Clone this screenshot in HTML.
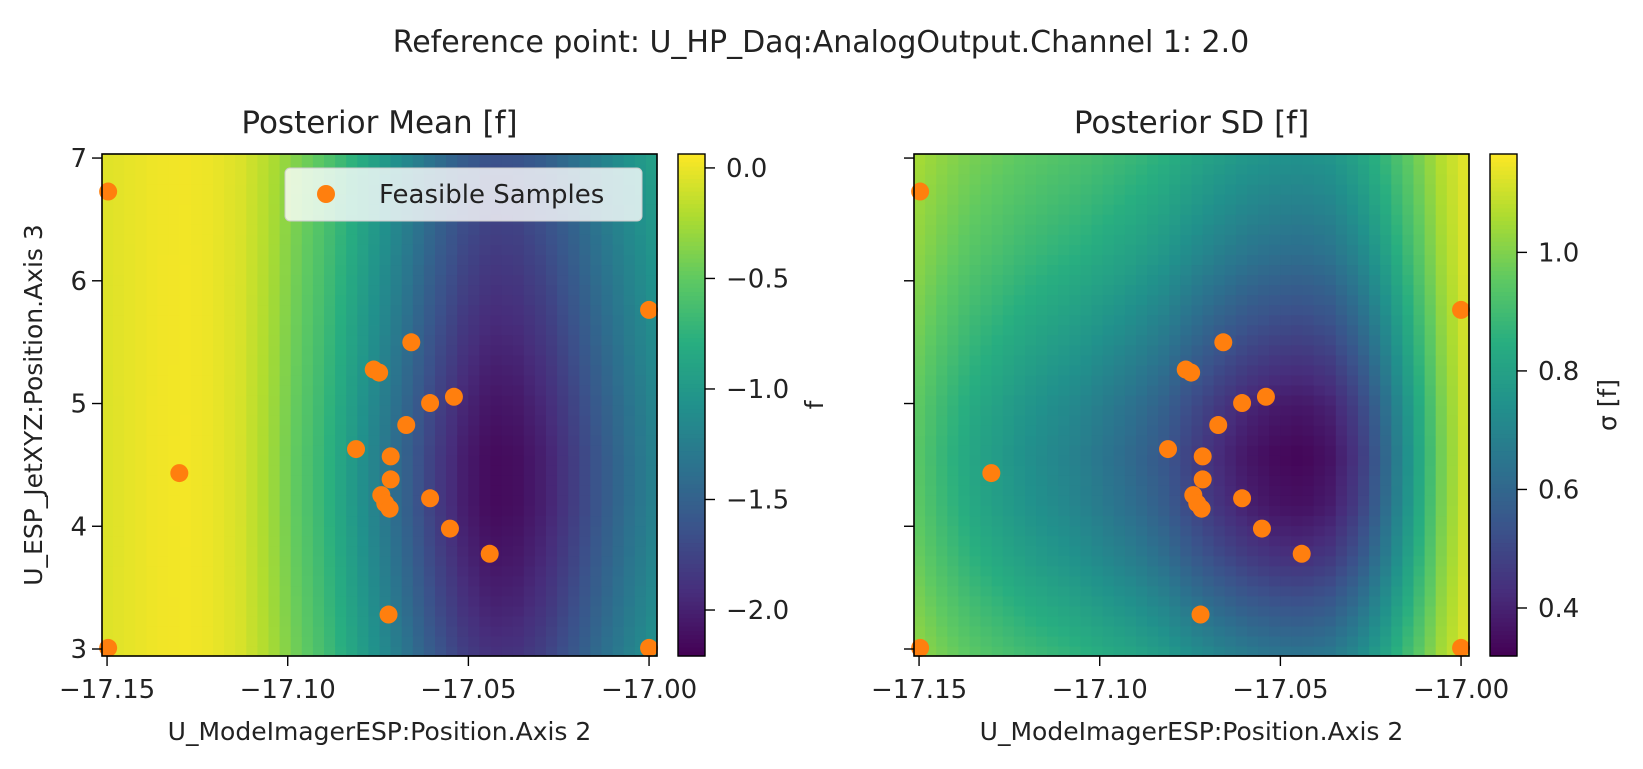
<!DOCTYPE html>
<html><head><meta charset="utf-8"><style>
body{margin:0;background:#fff;}
svg text{font-family:"DejaVu Sans","Liberation Sans",sans-serif;fill:#222;}
</style></head><body>
<svg id="fig" width="1643" height="764" viewBox="0 0 1643 764" xmlns="http://www.w3.org/2000/svg">
<rect width="1643" height="764" fill="#fff"/>
<text x="821" y="52" font-size="30" text-anchor="middle">Reference point: U_HP_Daq:AnalogOutput.Channel 1: 2.0</text>
<g id="root"></g>
</svg>
<script>
// data
const sampleX = [-17.1497,-17.0,-17.0,-17.1497,-17.130,-17.0658,-17.0762,-17.0747,-17.0606,-17.054,-17.0672,-17.0811,-17.0715,-17.0715,-17.0741,-17.0606,-17.073,-17.0718,-17.0551,-17.0441,-17.0721];
const sampleY = [6.727,5.763,3.009,3.009,4.433,5.499,5.277,5.252,5.004,5.055,4.825,4.629,4.569,4.382,4.254,4.228,4.186,4.143,3.981,3.776,3.281];
const meanColProfile = [-0.06,-0.02,0.02,0.03,0.0,-0.08,-0.25,-0.5,-0.72,-0.98,-1.25,-1.52,-1.8,-2.02,-2.15,-2.12,-2.0,-1.8,-1.58,-1.38,-1.2];
const meanRowScale = [0.88,0.93,0.97,1.0,1.0,0.97,0.93,0.89,0.85,0.81,0.76];
const sdColDepth = [0.21,0.28,0.34,0.38,0.42,0.45,0.48,0.52,0.56,0.61,0.68,0.74,0.79,0.82,0.83,0.8,0.71,0.56,0.38,0.18,0.04];
const sdRowDepth = [0.62,0.75,0.88,0.97,1.0,0.95,0.85,0.75,0.65,0.57,0.5];
const xTicks = [-17.15,-17.10,-17.05,-17.00];
const xTickLabels = ["\u221217.15","\u221217.10","\u221217.05","\u221217.00"];
const yTicks = [3,4,5,6,7];
const meanCbTicks = [0.0,-0.5,-1.0,-1.5,-2.0];
const meanCbLabels = ["0.0","\u22120.5","\u22121.0","\u22121.5","\u22122.0"];
const sdCbTicks = [1.0,0.8,0.6,0.4];
const sdCbLabels = ["1.0","0.8","0.6","0.4"];

const NS="http://www.w3.org/2000/svg";
const root=document.getElementById('root');
function mk(tag,attrs,parent){const e=document.createElementNS(NS,tag);for(const k in attrs)e.setAttribute(k,attrs[k]);(parent||root).appendChild(e);return e;}
const VIR=[[68,1,84],[71,45,123],[59,82,139],[44,114,142],[33,145,140],[40,174,128],[94,201,98],[173,220,48],[253,231,37]];
function viridis(t){t=Math.max(0,Math.min(1,t));const s=t*8,i=Math.min(7,Math.floor(s)),f=s-i;const a=VIR[i],b=VIR[i+1];return `rgb(${a.map((v,k)=>Math.round(v+(b[k]-v)*f)).join(',')})`;}
function interp(arr,u){const s=u*(arr.length-1),i=Math.min(arr.length-2,Math.floor(s)),f=s-i;return arr[i]+(arr[i+1]-arr[i])*f;}

const X0=-17.1514,X1=-16.9978,Y0=2.943,Y1=7.033,TOP=154,BOT=656,W=555;
function makePanel(left,kind){
  const g=mk('g',{});
  
  
  const xs=v=>left+(v-X0)/(X1-X0)*W;
  const ys=v=>BOT-(v-Y0)/(Y1-Y0)*(BOT-TOP);
  const N=50, cw=W/N, ch=(BOT-TOP)/N;
  const vmin=kind==='mean'?-2.208:0.319, vmax=kind==='mean'?0.063:1.166;
  for(let i=0;i<N;i++)for(let j=0;j<N;j++){
    const u=(i+0.5)/N, w=(j+0.5)/N;
    let v;
    if(kind==='mean') v=interp(meanColProfile,u)*interp(meanRowScale,w);
    else v=1.16-interp(sdColDepth,u)*interp(sdRowDepth,w);
    const r=mk('rect',{x:(left+i*cw).toFixed(2),y:(BOT-(j+1)*ch).toFixed(2),width:(cw+0.6).toFixed(2),height:(ch+0.6).toFixed(2),fill:viridis((v-vmin)/(vmax-vmin))},g);
    
    
  }
  for(let k=0;k<sampleX.length;k++){
    const c=mk('circle',{cx:xs(sampleX[k]),cy:ys(sampleY[k]),r:9,fill:'#ff7f0e'},g);
    
    
  }
  const fr=mk('rect',{x:left,y:TOP,width:W,height:BOT-TOP,fill:'none',stroke:'#000','stroke-width':1.6},g);
  
  
  xTicks.forEach((t,k)=>{
    const x=xs(t);
    mk('line',{x1:x,x2:x,y1:BOT,y2:BOT+10,stroke:'#000','stroke-width':1.4},g);
    const tx=mk('text',{x:x,y:698,'font-size':26,'text-anchor':'middle'},g);
    tx.textContent=xTickLabels[k];
    
    
  });
  yTicks.forEach(t=>{
    const y=ys(t);
    mk('line',{x1:left-10,x2:left,y1:y,y2:y,stroke:'#000','stroke-width':1.4},g);
    if(kind==='mean'){
      const tx=mk('text',{x:left-15,y:y+9,'font-size':26,'text-anchor':'end'},g);
      tx.textContent=String(t);
      
      
    }
  });
  const xl=mk('text',{x:left+W/2,y:740,'font-size':25,'text-anchor':'middle'},g);
  xl.textContent='U_ModeImagerESP:Position.Axis 2';
  
  
  const tt=mk('text',{x:left+W/2,y:133,'font-size':31,'text-anchor':'middle'},g);
  tt.textContent=kind==='mean'?'Posterior Mean [f]':'Posterior SD [f]';
  
  
  const cbx=left+W+21, cbw=27;
  const N2=120;
  for(let k=0;k<N2;k++){
    const r=mk('rect',{x:cbx,y:(TOP+k*(BOT-TOP)/N2).toFixed(2),width:cbw,height:((BOT-TOP)/N2+0.6).toFixed(2),fill:viridis(1-(k+0.5)/N2)},g);
    
    
  }
  mk('rect',{x:cbx,y:TOP,width:cbw,height:BOT-TOP,fill:'none',stroke:'#000','stroke-width':1.4},g);
  const ticks=kind==='mean'?meanCbTicks:sdCbTicks, labs=kind==='mean'?meanCbLabels:sdCbLabels;
  ticks.forEach((t,k)=>{
    const y=TOP+(vmax-t)/(vmax-vmin)*(BOT-TOP);
    mk('line',{x1:cbx+cbw,x2:cbx+cbw+10,y1:y,y2:y,stroke:'#000','stroke-width':1.4},g);
    const tx=mk('text',{x:cbx+cbw+21,y:y+9,'font-size':26},g);
    tx.textContent=labs[k];
    
    
  });
  const cl=mk('text',{x:0,y:0,'font-size':25,'text-anchor':'middle',transform:`translate(${kind==='mean'?823:1616},405) rotate(-90)`},g);
  cl.textContent=kind==='mean'?'f':'\u03c3 [f]';
  
  
}
makePanel(102,'mean');
makePanel(914,'sd');
const yl=mk('text',{x:0,y:0,'font-size':25,'text-anchor':'middle',transform:'translate(42,405) rotate(-90)'});
yl.textContent='U_ESP_JetXYZ:Position.Axis 3';


const lg=mk('g',{});


mk('rect',{x:285,y:168,width:357,height:53,rx:5,fill:'rgba(255,255,255,0.8)',stroke:'#ccc'},lg);
const lm=mk('circle',{cx:326,cy:194,r:9,fill:'#ff7f0e'},lg);


const lt=mk('text',{x:379,y:203,'font-size':26},lg);
lt.textContent='Feasible Samples';


</script>
</body></html>
